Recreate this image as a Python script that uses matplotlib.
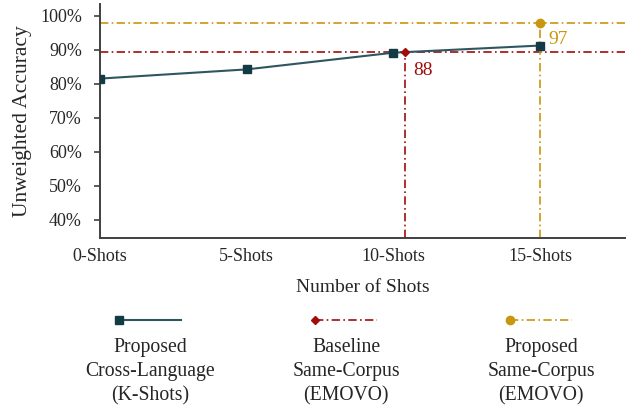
import numpy as np
import matplotlib
matplotlib.use('Agg')
import matplotlib.pyplot as plt
from matplotlib.lines import Line2D
from matplotlib.legend_handler import HandlerLine2D
from matplotlib.ticker import PercentFormatter

plt.rcParams['font.family'] = ['Liberation Serif', 'DejaVu Serif']

# data
shots = [0, 5, 10, 15]
shot_labels = ['0-Shots', '5-Shots', '10-Shots', '15-Shots']
cross_lang = [0.815, 0.842, 0.891, 0.912]

baseline_x = 10.4
baseline_acc = 0.893
baseline_text = '88'

proposed_x = 15
proposed_acc = 0.979
proposed_text = '97'

legend_labels = ['Proposed\nCross-Language\n(K-Shots)',
                 'Baseline\nSame-Corpus\n(EMOVO)',
                 'Proposed\nSame-Corpus\n(EMOVO)']

c_main = '#123b45'
c_line = '#2f5660'
c_red = '#a00d0d'
c_gold = '#c8960f'
c_text = '#262626'
dd = (5, 2, 1, 2)


class LeftMarker(HandlerLine2D):
    # marker at the left end of the legend line, like Excel
    def create_artists(self, *args, **kwargs):
        arts = super().create_artists(*args, **kwargs)
        for a in arts:
            a.set_markevery([0])
        return arts


fig = plt.figure(figsize=(6.34, 4.07), dpi=100)
ax = fig.add_axes([100/634, 1 - 238/407, 525/634, 234/407])

ylo, yhi = 0.347, 1.034
ax.set_xlim(0, 17.9)
ax.set_ylim(ylo, yhi)

# reference lines
ax.axhline(proposed_acc, color=c_gold, lw=1.2, dashes=dd, zorder=1)
ax.axhline(baseline_acc, color=c_red, lw=1.2, dashes=dd, zorder=1)
ax.vlines(proposed_x, ylo, proposed_acc, color=c_gold, lw=1.2, linestyles=[(0, dd)], zorder=1)
ax.vlines(baseline_x, ylo, baseline_acc, color=c_red, lw=1.2, linestyles=[(0, dd)], zorder=1)

ax.plot(shots, cross_lang, color=c_line, lw=1.5, marker='s', ms=6,
        mfc=c_main, mec=c_main, zorder=3)
ax.plot([baseline_x], [baseline_acc], marker='D', ms=4.5, color=c_red, zorder=4)
ax.plot([proposed_x], [proposed_acc], marker='o', ms=6, color=c_gold, zorder=4)

ax.annotate(baseline_text, (baseline_x, baseline_acc), xytext=(6, -13),
            textcoords='offset points', ha='left', va='center',
            color=c_red, fontsize=14)
ax.annotate(proposed_text, (proposed_x, proposed_acc), xytext=(6, -12),
            textcoords='offset points', ha='left', va='center',
            color=c_gold, fontsize=14)

ax.yaxis.set_major_formatter(PercentFormatter(1.0, decimals=0))
ax.set_yticks(np.arange(0.4, 1.01, 0.1))
ax.set_xticks(shots)
ax.set_xticklabels(shot_labels)
ax.tick_params(axis='y', direction='out', length=4, width=1.2, color='#404040',
               labelsize=13, labelcolor=c_text, pad=9)
ax.tick_params(axis='x', length=0, labelsize=13, labelcolor=c_text, pad=7)

for s in ['top', 'right']:
    ax.spines[s].set_visible(False)
for s in ['left', 'bottom']:
    ax.spines[s].set_color('#404040')
    ax.spines[s].set_linewidth(1.4)

ax.set_ylabel('Unweighted Accuracy', fontsize=15.5, color=c_text, labelpad=6)
ax.set_xlabel('Number of Shots', fontsize=14, color=c_text, labelpad=10)

# legend: handle above a centred three-line label
handles = [
    Line2D([0, 1], [0, 0], color=c_line, lw=1.5, marker='s', ms=6,
           mfc=c_main, mec=c_main),
    Line2D([0, 1], [0, 0], color=c_red, lw=1.2, dashes=dd, marker='D', ms=4.5),
    Line2D([0, 1], [0, 0], color=c_gold, lw=1.2, dashes=dd, marker='o', ms=6),
]
centers = [150, 346, 541]
for h, cx, lab in zip(handles, centers, legend_labels):
    fig.legend([h], [''], loc='center', bbox_to_anchor=(cx/634, 1 - 322/407),
               frameon=False, numpoints=1, handlelength=3.2,
               handletextpad=0, borderpad=0, fontsize=14,
               handler_map={Line2D: LeftMarker()})
    fig.text(cx/634, 1 - 372/407, lab, ha='center', va='center',
             multialignment='center', fontsize=14.2, color=c_text, linespacing=1.35)

fig.savefig('out.png', dpi=100)
